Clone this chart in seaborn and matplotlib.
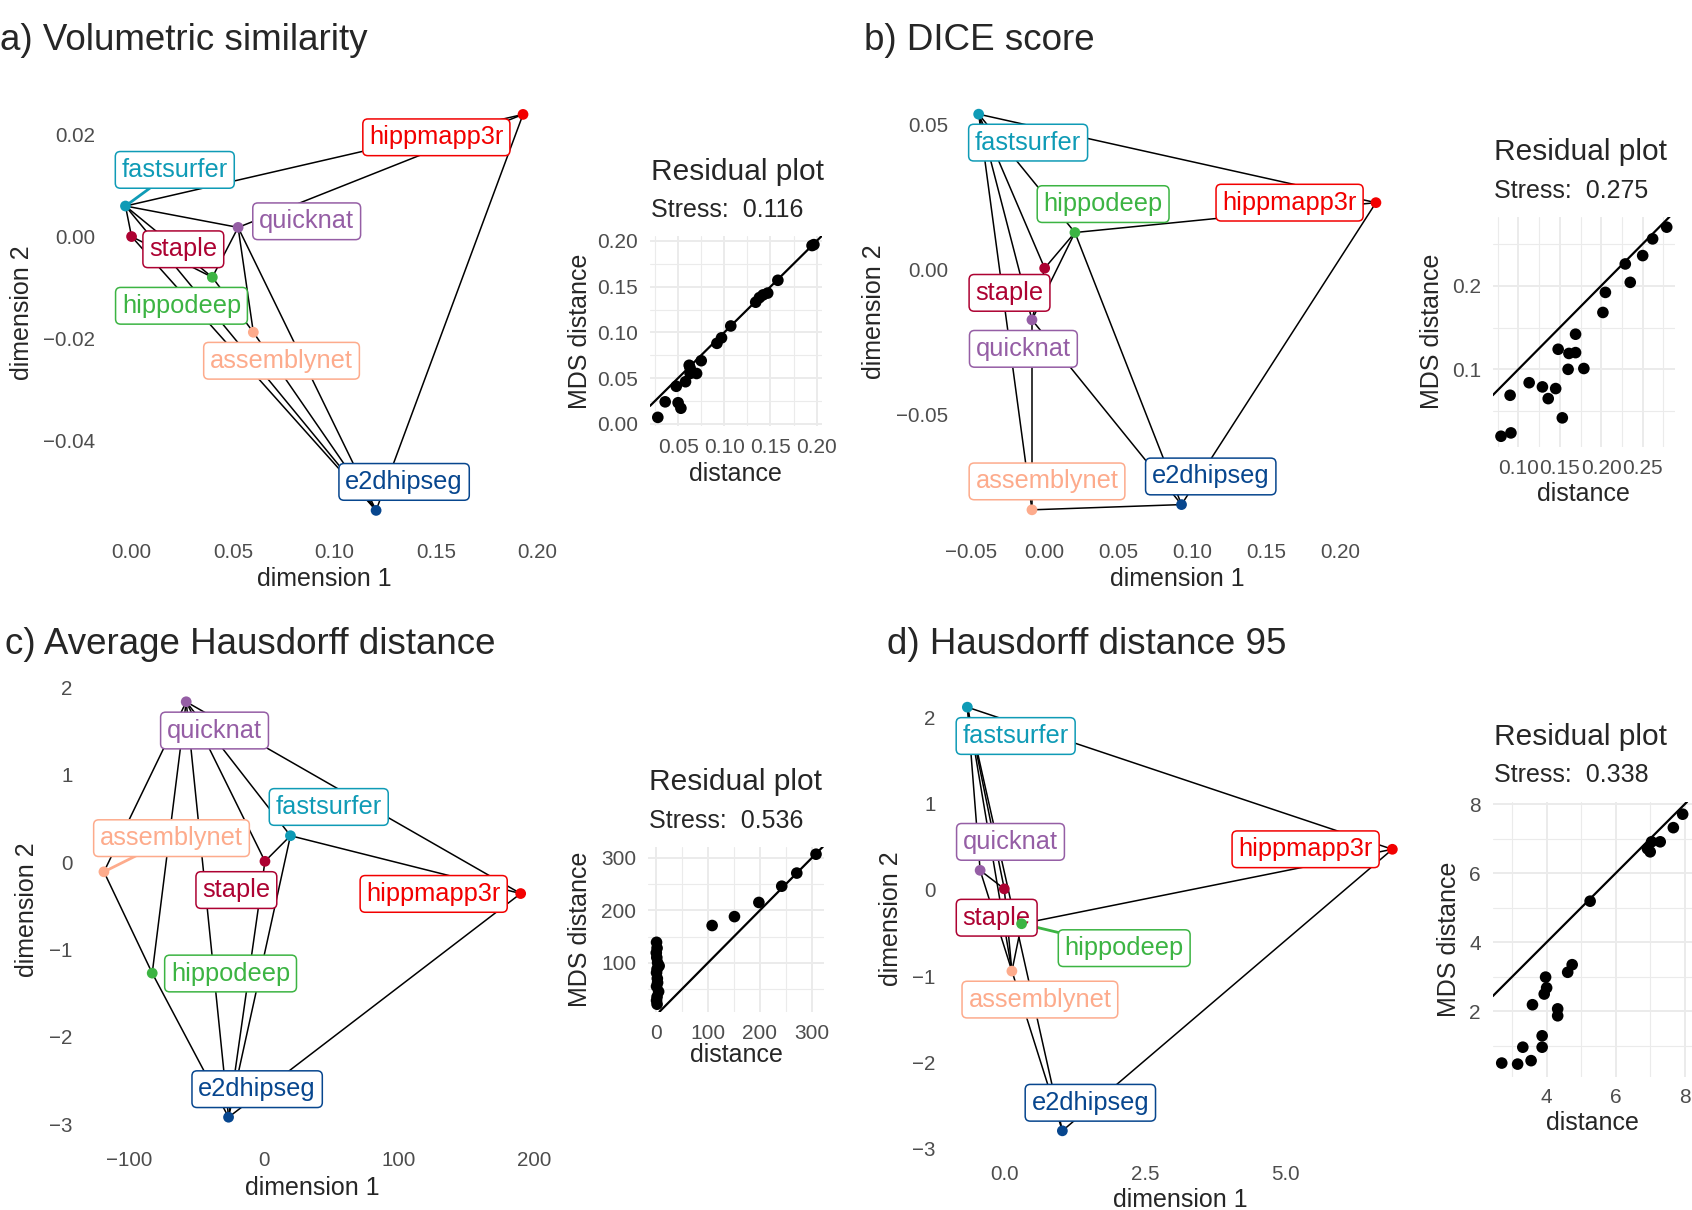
import numpy as np
import pandas as pd
import seaborn as sns
import matplotlib.pyplot as plt

# --- data ---
methods = ["fastsurfer", "hippmapp3r", "quicknat", "staple", "hippodeep", "assemblynet", "e2dhipseg"]
method_colors = ["#0F9BB6", "#F20000", "#955EA5", "#AD0232", "#3CB443", "#FDAB8C", "#07468E"]

# a) volumetric similarity
vs_x = [-0.0030, 0.1929, 0.0525, 0.0000, 0.0398, 0.0600, 0.1205]
vs_y = [0.0060, 0.0240, 0.0018, 0.0000, -0.0080, -0.0188, -0.0538]
vs_lab_x = [0.0213, 0.1502, 0.0863, 0.0255, 0.0246, 0.0739, 0.1343]
vs_lab_y = [0.0131, 0.0195, 0.0030, -0.0025, -0.0136, -0.0244, -0.0482]
vs_edges = [("fastsurfer", "hippmapp3r"), ("quicknat", "hippmapp3r"), ("e2dhipseg", "hippmapp3r"),
            ("fastsurfer", "quicknat"), ("fastsurfer", "staple"), ("fastsurfer", "hippodeep"),
            ("fastsurfer", "e2dhipseg"), ("staple", "hippodeep"), ("staple", "e2dhipseg"),
            ("quicknat", "hippodeep"), ("quicknat", "assemblynet"), ("quicknat", "e2dhipseg"),
            ("hippodeep", "assemblynet"), ("assemblynet", "e2dhipseg")]

# b) DICE score
dice_x = [-0.0447, 0.2244, -0.0086, 0.0000, 0.0205, -0.0086, 0.0927]
dice_y = [0.0534, 0.0229, -0.0175, 0.0003, 0.0126, -0.0830, -0.0812]
dice_lab_x = [-0.0112, 0.1659, -0.0144, -0.0238, 0.0396, 0.0016, 0.1125]
dice_lab_y = [0.0436, 0.0229, -0.0275, -0.0082, 0.0224, -0.0732, -0.0715]
dice_edges = [("fastsurfer", "hippmapp3r"), ("fastsurfer", "hippodeep"), ("fastsurfer", "staple"),
              ("fastsurfer", "quicknat"), ("fastsurfer", "assemblynet"), ("hippodeep", "hippmapp3r"),
              ("hippodeep", "staple"), ("hippodeep", "quicknat"), ("hippodeep", "e2dhipseg"),
              ("hippmapp3r", "e2dhipseg"), ("quicknat", "assemblynet"), ("quicknat", "e2dhipseg"),
              ("assemblynet", "e2dhipseg"), ("staple", "quicknat")]

# c) average Hausdorff distance
ahd_x = [19.4, 190.1, -57.9, 0.5, -83.1, -118.9, -26.5]
ahd_y = [0.301, -0.361, 1.834, 0.008, -1.272, -0.112, -2.921]
ahd_lab_x = [47.8, 125.6, -36.9, -20.7, -25.0, -68.8, -5.3]
ahd_lab_y = [0.630, -0.365, 1.505, -0.321, -1.276, 0.273, -2.600]
ahd_edges = [("quicknat", "assemblynet"), ("quicknat", "hippodeep"), ("quicknat", "e2dhipseg"),
             ("quicknat", "staple"), ("quicknat", "fastsurfer"), ("quicknat", "hippmapp3r"),
             ("fastsurfer", "staple"), ("fastsurfer", "hippmapp3r"), ("fastsurfer", "e2dhipseg"),
             ("staple", "e2dhipseg"), ("assemblynet", "hippodeep"), ("hippodeep", "e2dhipseg"),
             ("hippmapp3r", "e2dhipseg")]

# d) Hausdorff distance 95
hd95_x = [-0.656, 6.89, -0.429, 0.0, 0.307, 0.135, 1.031]
hd95_y = [2.118, 0.471, 0.227, 0.012, -0.392, -0.941, -2.792]
hd95_lab_x = [0.202, 5.35, 0.110, -0.135, 2.129, 0.632, 1.528]
hd95_lab_y = [1.784, 0.471, 0.557, -0.322, -0.675, -1.271, -2.467]
hd95_edges = [("fastsurfer", "hippmapp3r"), ("fastsurfer", "quicknat"), ("fastsurfer", "staple"),
              ("fastsurfer", "assemblynet"), ("fastsurfer", "e2dhipseg"), ("quicknat", "staple"),
              ("quicknat", "e2dhipseg"), ("staple", "assemblynet"), ("hippodeep", "hippmapp3r"),
              ("hippodeep", "assemblynet"), ("hippmapp3r", "e2dhipseg")]

# residual plots: original distance vs MDS distance
res_a_x = [0.028, 0.036, 0.048, 0.050, 0.053, 0.058, 0.062, 0.063, 0.063, 0.070, 0.075,
           0.092, 0.097, 0.107, 0.134, 0.138, 0.142, 0.147, 0.158, 0.195, 0.197]
res_a_y = [0.007, 0.024, 0.041, 0.023, 0.017, 0.046, 0.064, 0.055, 0.061, 0.055, 0.069,
           0.088, 0.094, 0.107, 0.133, 0.138, 0.141, 0.143, 0.157, 0.195, 0.196]
res_b_x = [0.079, 0.091, 0.090, 0.113, 0.129, 0.136, 0.145, 0.148, 0.153, 0.160, 0.161,
           0.169, 0.169, 0.179, 0.202, 0.205, 0.229, 0.235, 0.250, 0.262, 0.279]
res_b_y = [0.020, 0.024, 0.069, 0.084, 0.079, 0.065, 0.077, 0.124, 0.042, 0.100, 0.119,
           0.120, 0.142, 0.101, 0.168, 0.192, 0.226, 0.204, 0.236, 0.256, 0.270]
res_c_x = [1, 2, 0.5, 1.5, 3, 6, 2, 1, 2.5, 3, 1, 5, 2, 1, 2, 108, 151, 198, 242, 271, 308]
res_c_y = [139, 128, 119, 110, 100, 94, 88, 81, 70, 62, 55, 45, 35, 28, 21, 171, 188, 215, 246, 271, 307]
res_d_x = [2.70, 3.16, 3.55, 3.31, 3.87, 3.87, 3.59, 3.93, 4.00, 3.97, 4.32,
           4.32, 4.61, 4.74, 5.26, 6.92, 7.00, 7.04, 7.29, 7.67, 7.94]
res_d_y = [0.50, 0.47, 0.57, 0.96, 0.96, 1.29, 2.19, 2.50, 2.68, 2.99, 2.07,
           1.87, 3.13, 3.35, 5.19, 6.71, 6.62, 6.91, 6.91, 7.32, 7.71]
stress = ["0.116", "0.275", "0.536", "0.338"]
panel_titles = ["a) Volumetric similarity", "b) DICE score",
                "c) Average Hausdorff distance", "d) Hausdorff distance 95"]

# tick labels
vs_xt, vs_xtl = [0, 0.05, 0.10, 0.15, 0.20], ["0.00", "0.05", "0.10", "0.15", "0.20"]
vs_yt, vs_ytl = [-0.04, -0.02, 0.0, 0.02], ["\u22120.04", "\u22120.02", "0.00", "0.02"]
dice_xt = [-0.05, 0, 0.05, 0.10, 0.15, 0.20]
dice_xtl = ["\u22120.05", "0.00", "0.05", "0.10", "0.15", "0.20"]
dice_yt, dice_ytl = [-0.05, 0, 0.05], ["\u22120.05", "0.00", "0.05"]
ahd_xt, ahd_xtl = [-100, 0, 100, 200], ["\u2212100", "0", "100", "200"]
ahd_yt, ahd_ytl = [-3, -2, -1, 0, 1, 2], ["\u22123", "\u22122", "\u22121", "0", "1", "2"]
hd95_xt, hd95_xtl = [0, 2.5, 5.0], ["0.0", "2.5", "5.0"]
hd95_yt, hd95_ytl = [-3, -2, -1, 0, 1, 2], ["\u22123", "\u22122", "\u22121", "0", "1", "2"]

sns.set_style("white")
plt.rcParams['font.family'] = ['Liberation Sans', 'DejaVu Sans']

W, H = 1692, 1210
fig = plt.figure(figsize=(W / 100, H / 100), dpi=100)
palette = dict(zip(methods, method_colors))
TICK_COL = "#4D4D4D"


def px_axes(l, t, r, b):
    return fig.add_axes([l / W, 1 - b / H, (r - l) / W, (b - t) / H])


def expand(v, f=0.05):
    lo, hi = min(v), max(v)
    d = (hi - lo) * f
    return lo - d, hi + d


def set_labels(ax, box, xlab, ylab, xlab_y, ylab_x):
    l, t, r, b = box
    ax.set_xlabel(xlab, fontsize=18, va="center")
    ax.set_ylabel(ylab, fontsize=18, va="center")
    ax.xaxis.set_label_coords(0.5, (b - xlab_y) / (b - t))
    ax.yaxis.set_label_coords((ylab_x - l) / (r - l), 0.5)


def style_ticks(ax, xt, xtl, yt, ytl, size, xpad, ypad):
    ax.set_xticks(xt, xtl)
    ax.set_yticks(yt, ytl)
    ax.tick_params(length=0, labelsize=size, labelcolor=TICK_COL)
    ax.tick_params(axis="x", pad=xpad)
    ax.tick_params(axis="y", pad=ypad)
    for s in ax.spines.values():
        s.set_visible(False)


def draw_map(box, xs, ys, lab_x, lab_y, edges, seg_names, xt, xtl, yt, ytl, xlab_y, ylab_x):
    ax = px_axes(*box)
    df = pd.DataFrame({"method": methods, "x": xs, "y": ys})
    pos = dict(zip(methods, zip(xs, ys)))
    for a, b in edges:
        ax.plot([pos[a][0], pos[b][0]], [pos[a][1], pos[b][1]], color="black", lw=1.1, zorder=1)
    for m, lx, ly in zip(methods, lab_x, lab_y):
        c = palette[m]
        if m in seg_names:
            ax.plot([pos[m][0], lx], [pos[m][1], ly], color=c, lw=2.0, zorder=2)
        ax.text(lx, ly, m, color=c, fontsize=18.3, ha="center", va="center", zorder=3,
                bbox=dict(boxstyle="round,pad=0.25,rounding_size=0.2", fc="white", ec=c, lw=1.1))
    sns.scatterplot(data=df, x="x", y="y", hue="method", palette=palette, s=60,
                    edgecolor="none", legend=False, ax=ax, zorder=4)
    ax.set_xlim(expand(xs))
    ax.set_ylim(expand(ys))
    style_ticks(ax, xt, xtl, yt, ytl, 14.8, 9.5, 7.5)
    set_labels(ax, box, "dimension 1", "dimension 2", xlab_y, ylab_x)
    return ax


def draw_resid(box, dx, dy, st, xt, xtl, yt, ytl, xminor, yminor, xlab_y, ylab_x, title_y, sub_y):
    ax = px_axes(*box)
    sns.scatterplot(x=dx, y=dy, color="black", s=70, edgecolor="none", ax=ax, zorder=3)
    ax.axline((0, 0), slope=1, color="black", lw=1.6, zorder=2)
    ax.set_xlim(expand(dx))
    ax.set_ylim(expand(dy))
    style_ticks(ax, xt, xtl, yt, ytl, 15, 8.5, 8.5)
    ax.set_xticks(xminor, minor=True)
    ax.set_yticks(yminor, minor=True)
    ax.tick_params(which="minor", length=0)
    ax.grid(which="major", color="#EBEBEB", lw=1.4)
    ax.grid(which="minor", color="#EBEBEB", lw=0.8)
    ax.set_axisbelow(True)
    set_labels(ax, box, "distance", "MDS distance", xlab_y, ylab_x)
    l = box[0] + 1
    fig.text(l / W, 1 - title_y / H, "Residual plot", fontsize=21.5, va="baseline", ha="left")
    fig.text(l / W, 1 - sub_y / H, "Stress:  " + st, fontsize=18, va="baseline", ha="left")
    return ax


# panel titles
fig.text(0 / W, 1 - 50 / H, panel_titles[0], fontsize=26.5, va="baseline", ha="left")
fig.text(864 / W, 1 - 50 / H, panel_titles[1], fontsize=26.5, va="baseline", ha="left")
fig.text(5 / W, 1 - 654 / H, panel_titles[2], fontsize=26.5, va="baseline", ha="left")
fig.text(887 / W, 1 - 654 / H, panel_titles[3], fontsize=26.5, va="baseline", ha="left")

# maps
draw_map((105.6, 94.6, 542.9, 530.2), vs_x, vs_y, vs_lab_x, vs_lab_y, vs_edges, ["fastsurfer"],
         vs_xt, vs_xtl, vs_yt, vs_ytl, 579, 22)
draw_map((958.8, 94.4, 1395.8, 529.6), dice_x, dice_y, dice_lab_x, dice_lab_y, dice_edges, [],
         dice_xt, dice_xtl, dice_yt, dice_ytl, 579, 874)
draw_map((83.1, 681, 541.5, 1138), ahd_x, ahd_y, ahd_lab_x, ahd_lab_y, ahd_edges, ["assemblynet"],
         ahd_xt, ahd_xtl, ahd_yt, ahd_ytl, 1188, 27)
draw_map((946.1, 686, 1413.6, 1152), hd95_x, hd95_y, hd95_lab_x, hd95_lab_y, hd95_edges, ["hippodeep"],
         hd95_xt, hd95_xtl, hd95_yt, hd95_ytl, 1200, 891)

# residual plots
draw_resid((650, 236, 821.7, 426), res_a_x, res_a_y, stress[0],
           [0.05, 0.10, 0.15, 0.20], ["0.05", "0.10", "0.15", "0.20"],
           [0, 0.05, 0.10, 0.15, 0.20], ["0.00", "0.05", "0.10", "0.15", "0.20"],
           [0.025, 0.075, 0.125, 0.175], [0.025, 0.075, 0.125, 0.175], 474, 580, 180, 217)
draw_resid((1492.7, 216.7, 1675, 446.7), res_b_x, res_b_y, stress[1],
           [0.10, 0.15, 0.20, 0.25], ["0.10", "0.15", "0.20", "0.25"],
           [0.1, 0.2], ["0.1", "0.2"],
           [0.075, 0.125, 0.175, 0.225, 0.275], [0.05, 0.15, 0.25], 494, 1432, 160, 198)
draw_resid((648.3, 846.7, 824, 1011.7), res_c_x, res_c_y, stress[2],
           [0, 100, 200, 300], ["0", "100", "200", "300"],
           [100, 200, 300], ["100", "200", "300"],
           [50, 150, 250], [50, 150, 250], 1055, 580, 790, 828)
draw_resid((1492.7, 801.7, 1691.7, 1076.6), res_d_x, res_d_y, stress[3],
           [4, 6, 8], ["4", "6", "8"],
           [2, 4, 6, 8], ["2", "4", "6", "8"],
           [3, 5, 7], [1, 3, 5, 7], 1123, 1449, 745, 782)

fig.savefig("out.png", dpi=100, facecolor="white")
